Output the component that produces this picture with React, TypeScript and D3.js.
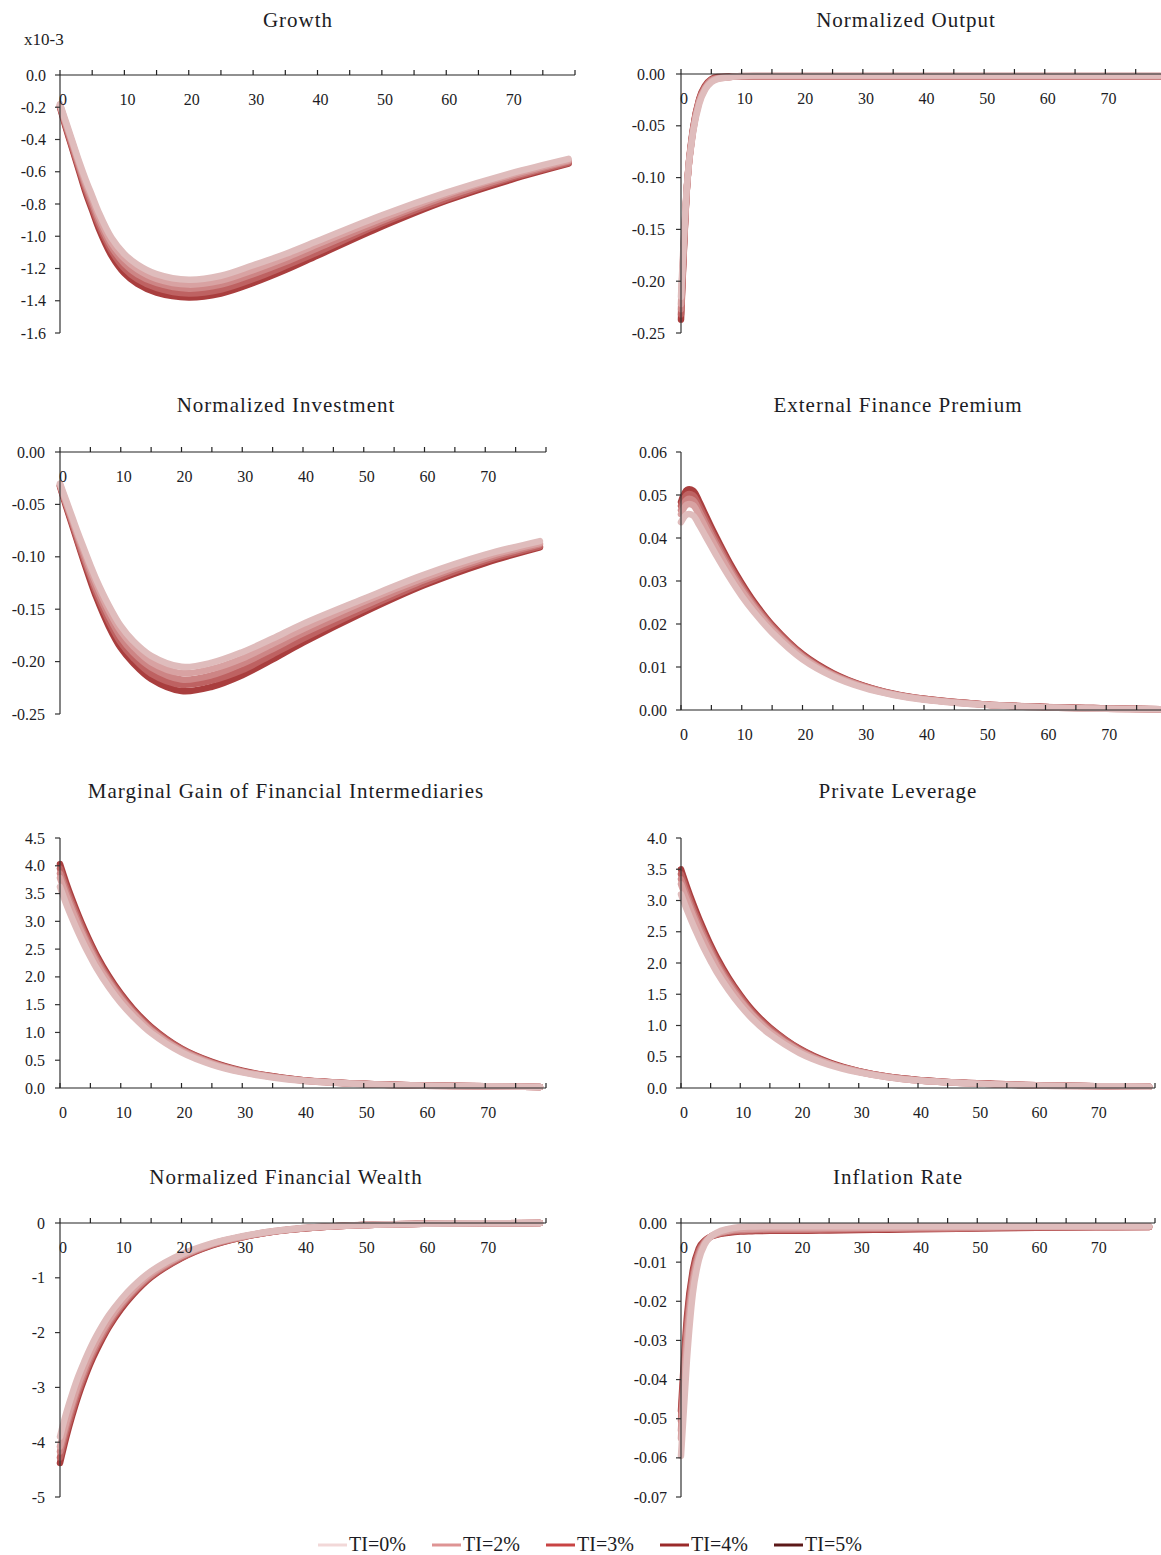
import React from 'react';
import * as d3 from 'd3';

// ---------- data ----------
const T = [0, 1, 2, 3, 4, 5, 6, 8, 10, 12, 15, 20, 25, 30, 35, 40, 50, 60, 70, 79];
const SERIES = ['TI=0%', 'TI=2%', 'TI=3%', 'TI=4%', 'TI=5%'];

const growth0 = [-0.18, -0.30, -0.42, -0.54, -0.65, -0.75, -0.85, -1.01, -1.11, -1.175, -1.235, -1.27, -1.245, -1.18, -1.11, -1.03, -0.87, -0.73, -0.61, -0.52];
const growth2 = [-0.185, -0.31, -0.43, -0.555, -0.67, -0.77, -0.875, -1.04, -1.14, -1.205, -1.265, -1.30, -1.275, -1.21, -1.135, -1.05, -0.89, -0.74, -0.62, -0.53];
const growth3 = [-0.19, -0.32, -0.445, -0.57, -0.69, -0.795, -0.90, -1.065, -1.17, -1.235, -1.29, -1.325, -1.30, -1.235, -1.16, -1.075, -0.905, -0.755, -0.63, -0.535];
const growth4 = [-0.195, -0.33, -0.46, -0.585, -0.71, -0.82, -0.925, -1.09, -1.20, -1.265, -1.32, -1.355, -1.33, -1.265, -1.185, -1.10, -0.92, -0.77, -0.64, -0.545];
const growth5 = [-0.20, -0.34, -0.47, -0.60, -0.73, -0.84, -0.95, -1.12, -1.23, -1.295, -1.35, -1.38, -1.355, -1.29, -1.21, -1.12, -0.94, -0.78, -0.65, -0.55];

const output0 = [-0.215, -0.106, -0.056, -0.029, -0.015, -0.008, -0.005, -0.003, -0.002, -0.0015, -0.0015, -0.0015, -0.0015, -0.0015, -0.0015, -0.0015, -0.0015, -0.0015, -0.0015, -0.0015];
const output2 = [-0.222, -0.107, -0.055, -0.027, -0.014, -0.007, -0.0045, -0.003, -0.002, -0.002, -0.002, -0.002, -0.002, -0.002, -0.002, -0.002, -0.002, -0.002, -0.002, -0.002];
const output3 = [-0.227, -0.107, -0.054, -0.026, -0.013, -0.006, -0.004, -0.003, -0.0022, -0.0022, -0.0022, -0.0022, -0.0022, -0.0022, -0.0022, -0.0022, -0.0022, -0.0022, -0.0022, -0.0022];
const output4 = [-0.232, -0.108, -0.053, -0.025, -0.012, -0.0055, -0.0035, -0.0028, -0.0024, -0.0024, -0.0024, -0.0024, -0.0024, -0.0024, -0.0024, -0.0024, -0.0024, -0.0024, -0.0024, -0.0024];
const output5 = [-0.237, -0.108, -0.052, -0.024, -0.011, -0.005, -0.003, -0.0025, -0.0025, -0.0025, -0.0025, -0.0025, -0.0025, -0.0025, -0.0025, -0.0025, -0.0025, -0.0025, -0.0025, -0.0025];

const invest0 = [-0.030, -0.046, -0.062, -0.078, -0.093, -0.108, -0.122, -0.146, -0.166, -0.180, -0.1945, -0.205, -0.201, -0.191, -0.178, -0.164, -0.140, -0.117, -0.098, -0.085];
const invest2 = [-0.031, -0.048, -0.064, -0.081, -0.096, -0.112, -0.126, -0.151, -0.171, -0.185, -0.2005, -0.211, -0.207, -0.197, -0.183, -0.169, -0.143, -0.120, -0.100, -0.087];
const invest3 = [-0.032, -0.049, -0.066, -0.083, -0.100, -0.116, -0.131, -0.156, -0.177, -0.191, -0.2055, -0.217, -0.213, -0.202, -0.188, -0.173, -0.147, -0.122, -0.102, -0.088];
const invest4 = [-0.032, -0.050, -0.068, -0.086, -0.103, -0.119, -0.135, -0.161, -0.182, -0.196, -0.2115, -0.222, -0.218, -0.208, -0.193, -0.178, -0.150, -0.125, -0.104, -0.090];
const invest5 = [-0.033, -0.052, -0.070, -0.088, -0.106, -0.123, -0.139, -0.166, -0.187, -0.201, -0.2165, -0.228, -0.224, -0.213, -0.198, -0.182, -0.153, -0.127, -0.106, -0.091];

const efp0 = [0.0437, 0.0455, 0.0452, 0.0430, 0.0405, 0.0380, 0.0355, 0.0308, 0.0265, 0.0228, 0.0180, 0.0118, 0.0078, 0.0052, 0.0035, 0.0024, 0.0012, 0.0006, 0.0003, 0.0002];
const efp2 = [0.0455, 0.0478, 0.0476, 0.0452, 0.0425, 0.0398, 0.0372, 0.0322, 0.0277, 0.0238, 0.0187, 0.0123, 0.0081, 0.0054, 0.0036, 0.0025, 0.0012, 0.0006, 0.0003, 0.0002];
const efp3 = [0.0465, 0.0490, 0.0488, 0.0463, 0.0435, 0.0407, 0.0380, 0.0329, 0.0283, 0.0243, 0.0191, 0.0125, 0.0082, 0.0055, 0.0037, 0.0025, 0.0013, 0.0007, 0.0003, 0.0002];
const efp4 = [0.0475, 0.0501, 0.0499, 0.0474, 0.0445, 0.0416, 0.0389, 0.0336, 0.0289, 0.0247, 0.0195, 0.0128, 0.0084, 0.0056, 0.0037, 0.0026, 0.0013, 0.0007, 0.0004, 0.0002];
const efp5 = [0.0484, 0.0512, 0.0510, 0.0485, 0.0455, 0.0425, 0.0397, 0.0343, 0.0295, 0.0252, 0.0198, 0.0130, 0.0086, 0.0057, 0.0038, 0.0026, 0.0013, 0.0007, 0.0004, 0.0002];

const gain0 = [3.62, 3.32, 3.05, 2.80, 2.57, 2.36, 2.16, 1.82, 1.53, 1.29, 0.99, 0.64, 0.42, 0.28, 0.19, 0.13, 0.07, 0.04, 0.03, 0.02];
const gain2 = [3.78, 3.47, 3.19, 2.93, 2.69, 2.46, 2.25, 1.90, 1.60, 1.35, 1.03, 0.67, 0.44, 0.29, 0.20, 0.13, 0.07, 0.04, 0.03, 0.02];
const gain3 = [3.86, 3.54, 3.26, 2.99, 2.74, 2.51, 2.30, 1.94, 1.63, 1.37, 1.05, 0.68, 0.45, 0.30, 0.20, 0.14, 0.07, 0.04, 0.03, 0.02];
const gain4 = [3.95, 3.62, 3.33, 3.06, 2.80, 2.57, 2.35, 1.98, 1.67, 1.40, 1.08, 0.70, 0.46, 0.30, 0.21, 0.14, 0.075, 0.045, 0.03, 0.02];
const gain5 = [4.03, 3.70, 3.40, 3.12, 2.86, 2.62, 2.40, 2.02, 1.70, 1.43, 1.10, 0.71, 0.47, 0.31, 0.21, 0.14, 0.075, 0.045, 0.03, 0.02];

const lev0 = [3.10, 2.85, 2.62, 2.41, 2.21, 2.03, 1.86, 1.57, 1.32, 1.11, 0.86, 0.56, 0.37, 0.25, 0.17, 0.12, 0.07, 0.04, 0.03, 0.02];
const lev2 = [3.26, 3.00, 2.76, 2.53, 2.33, 2.14, 1.96, 1.65, 1.39, 1.17, 0.90, 0.59, 0.39, 0.26, 0.17, 0.12, 0.07, 0.04, 0.03, 0.02];
const lev3 = [3.34, 3.07, 2.82, 2.59, 2.39, 2.19, 2.00, 1.69, 1.42, 1.19, 0.92, 0.60, 0.39, 0.26, 0.18, 0.12, 0.07, 0.04, 0.03, 0.02];
const lev4 = [3.42, 3.15, 2.89, 2.66, 2.44, 2.24, 2.05, 1.73, 1.46, 1.22, 0.95, 0.62, 0.40, 0.27, 0.18, 0.13, 0.075, 0.045, 0.03, 0.02];
const lev5 = [3.50, 3.22, 2.96, 2.72, 2.50, 2.29, 2.10, 1.77, 1.49, 1.25, 0.97, 0.63, 0.41, 0.27, 0.18, 0.13, 0.075, 0.045, 0.03, 0.02];

const wealth0 = [-3.90, -3.48, -3.12, -2.80, -2.53, -2.28, -2.06, -1.69, -1.40, -1.16, -0.88, -0.57, -0.37, -0.24, -0.15, -0.09, -0.035, -0.012, -0.005, -0.002];
const wealth2 = [-4.08, -3.65, -3.28, -2.94, -2.65, -2.39, -2.16, -1.78, -1.47, -1.22, -0.92, -0.60, -0.38, -0.25, -0.15, -0.09, -0.036, -0.012, -0.005, -0.002];
const wealth3 = [-4.17, -3.73, -3.35, -3.01, -2.72, -2.45, -2.22, -1.82, -1.51, -1.25, -0.95, -0.61, -0.39, -0.25, -0.16, -0.10, -0.037, -0.013, -0.005, -0.002];
const wealth4 = [-4.28, -3.83, -3.44, -3.09, -2.78, -2.51, -2.27, -1.87, -1.54, -1.28, -0.97, -0.63, -0.40, -0.26, -0.16, -0.10, -0.038, -0.013, -0.005, -0.002];
const wealth5 = [-4.38, -3.92, -3.52, -3.16, -2.85, -2.57, -2.33, -1.91, -1.58, -1.31, -0.99, -0.64, -0.41, -0.26, -0.16, -0.10, -0.038, -0.013, -0.005, -0.002];

const infl0 = [-0.0595, -0.0350, -0.0180, -0.0095, -0.0055, -0.0035, -0.0025, -0.0015, -0.0010, -0.0009, -0.0008, -0.0008, -0.0008, -0.0008, -0.0008, -0.0008, -0.0008, -0.0008, -0.0008, -0.0008];
const infl2 = [-0.0550, -0.0310, -0.0158, -0.0085, -0.0051, -0.0035, -0.0027, -0.0019, -0.0015, -0.0014, -0.0013, -0.0013, -0.0012, -0.0012, -0.0012, -0.0011, -0.0010, -0.0009, -0.0009, -0.0009];
const infl3 = [-0.0530, -0.0285, -0.0145, -0.0078, -0.0049, -0.0035, -0.0028, -0.0021, -0.0018, -0.0017, -0.0016, -0.0016, -0.0015, -0.0014, -0.0014, -0.0013, -0.0012, -0.0010, -0.0010, -0.0009];
const infl4 = [-0.0505, -0.0262, -0.0132, -0.0071, -0.0047, -0.0035, -0.0029, -0.0023, -0.0020, -0.0019, -0.0018, -0.0018, -0.0017, -0.0016, -0.0015, -0.0015, -0.0013, -0.0011, -0.0010, -0.0010];
const infl5 = [-0.0480, -0.0240, -0.0120, -0.0065, -0.0045, -0.0035, -0.0030, -0.0025, -0.0022, -0.0021, -0.0020, -0.0020, -0.0019, -0.0018, -0.0017, -0.0016, -0.0014, -0.0012, -0.0011, -0.0010];

const growthTicks = [0, -0.2, -0.4, -0.6, -0.8, -1.0, -1.2, -1.4, -1.6];
const outputTicks = [0, -0.05, -0.10, -0.15, -0.20, -0.25];
const investTicks = [0, -0.05, -0.10, -0.15, -0.20, -0.25];
const efpTicks = [0, 0.01, 0.02, 0.03, 0.04, 0.05, 0.06];
const gainTicks = [0, 0.5, 1.0, 1.5, 2.0, 2.5, 3.0, 3.5, 4.0, 4.5];
const levTicks = [0, 0.5, 1.0, 1.5, 2.0, 2.5, 3.0, 3.5, 4.0];
const wealthTicks = [0, -1, -2, -3, -4, -5];
const inflTicks = [0, -0.01, -0.02, -0.03, -0.04, -0.05, -0.06, -0.07];
const xMinorTicks = [0, 5, 10, 15, 20, 25, 30, 35, 40, 45, 50, 55, 60, 65, 70, 75, 80];
const xLabelTicks = [0, 10, 20, 30, 40, 50, 60, 70];

// ---------- styles ----------
const LINE_COLORS = ['#dfbcbc', '#d8a2a2', '#cd8585', '#be6262', '#a93e3e'];
const LEGEND_COLORS = ['#f2d8d8', '#de9494', '#c84444', '#9a2a2a', '#5c1818'];
const FONT = '"Liberation Serif", "Times New Roman", serif';
const TEXT = '#1c1c24';

const panels = [
  { title: 'Growth', series: [growth0, growth2, growth3, growth4, growth5], ticks: growthTicks, dec: 1, x0: 60, x1: 575, yTop: 75, yBot: 333, tx: 298, ty: 27, lx: 46, smooth: true },
  { title: 'Normalized Output', series: [output0, output2, output3, output4, output5], ticks: outputTicks, dec: 2, x0: 681, x1: 1166, yTop: 74, yBot: 333, tx: 906, ty: 27, lx: 665, smooth: false },
  { title: 'Normalized Investment', series: [invest0, invest2, invest3, invest4, invest5], ticks: investTicks, dec: 2, x0: 60, x1: 546, yTop: 452, yBot: 714, tx: 286, ty: 412, lx: 45, smooth: true },
  { title: 'External Finance Premium', series: [efp0, efp2, efp3, efp4, efp5], ticks: efpTicks, dec: 2, x0: 681, x1: 1167, yTop: 452, yBot: 710, tx: 898, ty: 412, lx: 667, smooth: true },
  { title: 'Marginal Gain of Financial Intermediaries', series: [gain0, gain2, gain3, gain4, gain5], ticks: gainTicks, dec: 1, x0: 60, x1: 546, yTop: 838, yBot: 1088, tx: 286, ty: 798, lx: 45, smooth: true },
  { title: 'Private Leverage', series: [lev0, lev2, lev3, lev4, lev5], ticks: levTicks, dec: 1, x0: 681, x1: 1155, yTop: 838, yBot: 1088, tx: 898, ty: 798, lx: 667, smooth: true },
  { title: 'Normalized Financial Wealth', series: [wealth0, wealth2, wealth3, wealth4, wealth5], ticks: wealthTicks, dec: 0, x0: 60, x1: 546, yTop: 1223, yBot: 1497, tx: 286, ty: 1184, lx: 45, smooth: true },
  { title: 'Inflation Rate', series: [infl0, infl2, infl3, infl4, infl5], ticks: inflTicks, dec: 2, x0: 681, x1: 1155, yTop: 1223, yBot: 1497, tx: 898, ty: 1184, lx: 667, smooth: false },
];

function fmt(v: number, dec: number) {
  const s = Math.abs(v).toFixed(dec);
  return (v < 0 ? '-' : '') + s;
}

function Panel({ p }: { p: any }) {
  const yMin = d3.min(p.ticks as number[]) as number;
  const yMax = d3.max(p.ticks as number[]) as number;
  const x = d3.scaleLinear().domain([0, 80]).range([p.x0, p.x1]);
  const y = d3.scaleLinear().domain([yMin, yMax]).range([p.yBot, p.yTop]);
  const axisY = y(0);
  const line = d3
    .line<number>()
    .x((_, i) => x(T[i]))
    .y((d) => y(d))
    .curve(p.smooth ? d3.curveCatmullRom.alpha(0.5) : d3.curveMonotoneX);
  const order = [4, 3, 2, 1, 0];
  return (
    <g>
      <text x={p.tx} y={p.ty} textAnchor="middle" fontSize={21} letterSpacing={1} fill={TEXT} fontFamily={FONT}>
        {p.title}
      </text>
      {order.map((k) => (
        <path
          key={k}
          d={line(p.series[k]) || ''}
          fill="none"
          stroke={LINE_COLORS[k]}
          strokeWidth={6.5}
          strokeLinecap="round"
          strokeLinejoin="round"
        />
      ))}
      {/* y axis */}
      <line x1={p.x0} x2={p.x0} y1={p.yTop} y2={p.yBot} stroke="#333" strokeWidth={1.2} />
      {p.ticks.map((t: number) => (
        <g key={'y' + t}>
          <line x1={p.x0 - 5} x2={p.x0} y1={y(t)} y2={y(t)} stroke="#333" strokeWidth={1.2} />
          <text x={p.lx} y={y(t)} dy="0.35em" textAnchor="end" fontSize={16} fill={TEXT} fontFamily={FONT}>
            {fmt(t, p.dec)}
          </text>
        </g>
      ))}
      {/* x axis */}
      <line x1={p.x0} x2={p.x1} y1={axisY} y2={axisY} stroke="#222" strokeWidth={1.2} />
      {xMinorTicks.map((t) => (
        <line key={'xt' + t} x1={x(t)} x2={x(t)} y1={axisY} y2={axisY - 5} stroke="#222" strokeWidth={1.2} />
      ))}
      {xLabelTicks.map((t) => (
        <text key={'xl' + t} x={x(t) + 3} y={axisY + 30} textAnchor="middle" fontSize={16} fill={TEXT} fontFamily={FONT}>
          {t}
        </text>
      ))}
    </g>
  );
}

export default function App() {
  const legendX = [318, 432, 546, 660, 774];
  return (
    <svg width={1161} height={1555} style={{ position: 'absolute', left: 0, top: 0, background: '#fff' }}>
      <rect x={0} y={0} width={1161} height={1555} fill="#fff" />
      {panels.map((p) => (
        <Panel key={p.title} p={p} />
      ))}
      <text x={24} y={45} fontSize={17} fill={TEXT} fontFamily={FONT}>
        x10-3
      </text>
      {SERIES.map((s, i) => (
        <g key={s}>
          <line x1={legendX[i]} x2={legendX[i] + 29} y1={1545} y2={1545} stroke={LEGEND_COLORS[i]} strokeWidth={3} />
          <text x={legendX[i] + 31} y={1551} fontSize={20} fill={TEXT} fontFamily={FONT}>
            {s}
          </text>
        </g>
      ))}
    </svg>
  );
}
